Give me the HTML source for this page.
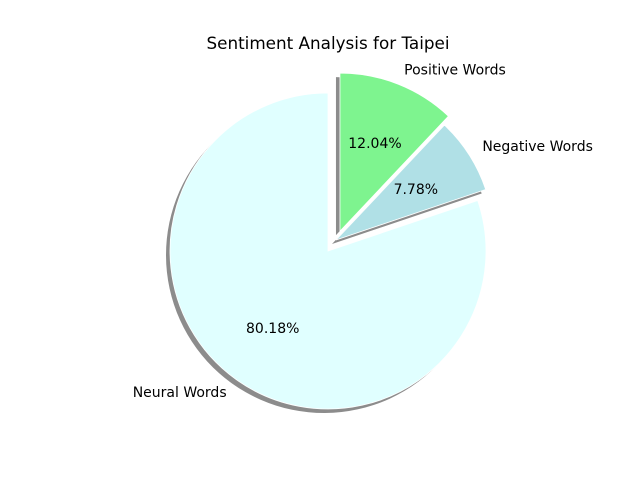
<!DOCTYPE html>
<html><head><meta charset="utf-8"><style>
body{margin:0;background:#fff;}
svg{display:block;font-family:"DejaVu Sans","Liberation Sans",sans-serif;}
</style></head><body>
<svg id="chart" width="640" height="480" viewBox="0 0 640 480">
<rect width="640" height="480" fill="#fff"/>
<text x="328" y="49" text-anchor="middle" font-size="16.8" fill="#000">Sentiment Analysis for Taipei</text>
</svg>
<script>
const categories = ["Positive Words", "Negative Words", "Neural Words"];
const values = [12.04, 7.78, 80.18];
const explodes = [0.147, 0.086, 0];
const explodeDirDeg = [59, 54, 0];
const colors = ["#7ef48f", "#b0e0e6", "#e0ffff"];
const svg = document.getElementById('chart');
const NS = 'http://www.w3.org/2000/svg';
const cx = 328, cy = 251, R = 158;
const total = values.reduce((a,b)=>a+b,0);
function pt(x,y,r,a){return [x+r*Math.cos(a), y-r*Math.sin(a)];}
function wedgePath(x,y,a1,a2){
  const p1=pt(x,y,R,a1), p2=pt(x,y,R,a2);
  const large=(a1-a2)>Math.PI?1:0;
  return `M${x},${y} L${p1[0]},${p1[1]} A${R},${R} 0 ${large} 1 ${p2[0]},${p2[1]} Z`;
}
const gShadow=document.createElementNS(NS,'g');


const gW=document.createElementNS(NS,'g');


const gT=document.createElementNS(NS,'g');


svg.appendChild(gShadow);svg.appendChild(gW);svg.appendChild(gT);
let ang=Math.PI/2;
values.forEach((v,i)=>{
  const sweep=v/total*2*Math.PI;
  const a1=ang, a2=ang-sweep, mid=(a1+a2)/2;
  const [x,y]=pt(cx,cy,explodes[i]*R,explodeDirDeg[i]*Math.PI/180);
  const sh=document.createElementNS(NS,'path');
  sh.setAttribute('d',wedgePath(x-4,y+4,a1,a2));
  sh.setAttribute('fill','#000');sh.setAttribute('fill-opacity','0.45');
  
  
  gShadow.appendChild(sh);
  const w=document.createElementNS(NS,'path');
  w.setAttribute('d',wedgePath(x,y,a1,a2));
  w.setAttribute('fill',colors[i]);
  w.setAttribute('stroke','#fff');w.setAttribute('stroke-width','0.8');
  
  
  gW.appendChild(w);
  const lp=pt(x,y,1.1*R,mid);
  const t=document.createElementNS(NS,'text');
  t.setAttribute('x',lp[0]);t.setAttribute('y',lp[1]+5);
  t.setAttribute('font-size','14');
  t.setAttribute('text-anchor',Math.cos(mid)>=0?'start':'end');
  t.textContent=categories[i];
  
  
  gT.appendChild(t);
  const pp=pt(x,y,0.6*R,mid);
  const p=document.createElementNS(NS,'text');
  p.setAttribute('x',pp[0]);p.setAttribute('y',pp[1]+5);
  p.setAttribute('font-size','14');p.setAttribute('text-anchor','middle');
  p.textContent=v.toFixed(2)+'%';
  
  
  gT.appendChild(p);
  ang=a2;
});
</script>
</body></html>
